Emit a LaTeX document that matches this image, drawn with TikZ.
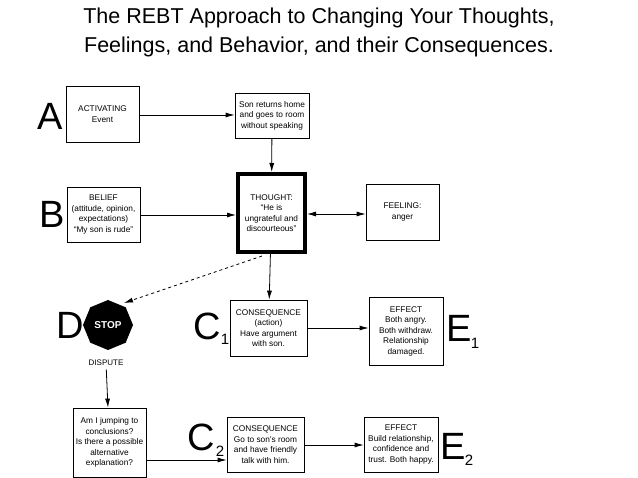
\documentclass[tikz,border=0pt]{standalone}
\usepackage{fontspec}
\setmainfont{Liberation Sans}
\usetikzlibrary{arrows.meta,shapes.geometric}
\begin{document}
\begin{tikzpicture}[x=1pt,y=-1pt,
  box/.style={draw,thick,align=center,font=\fontsize{8.3}{10.5}\selectfont,inner sep=0pt},
  big/.style={font=\fontsize{38}{38}\selectfont,inner sep=0pt},
  sub/.style={font=\fontsize{15}{15}\selectfont,inner sep=0pt},
  arr/.style={thick,-{Latex[length=9pt,width=5pt]}}]
\useasboundingbox (0,0) rectangle (638,478);
\node[font=\fontsize{21.5}{29}\selectfont,align=center] (title) at (319,32) {The REBT Approach to Changing Your Thoughts,\\Feelings, and Behavior, and their Consequences.};
\node[box,minimum width=73pt,minimum height=56pt] (act) at (102.5,114) {ACTIVATING\\Event};
\node[big] (A) at (50,116) {A};
\node[box,minimum width=74pt,minimum height=45pt] (son) at (272,115.5) {Son returns home\\and goes to room\\without speaking};
\node[box,line width=4pt,minimum width=67pt,minimum height=78pt] (th) at (271.5,213) {THOUGHT:\\``He is\\ungrateful and\\discourteous''};
\node[box,minimum width=73pt,minimum height=55pt] (bel) at (103.5,214.5) {BELIEF\\(attitude, opinion,\\expectations)\\``My son is rude''};
\node[big] (B) at (52,214) {B};
\node[box,minimum width=73pt,minimum height=56pt] (feel) at (402.5,212) {FEELING:\\anger};
\node[regular polygon,regular polygon sides=8,shape border rotate=22.5,fill=black,minimum size=50pt,inner sep=0pt,text=white,font=\bfseries\fontsize{10}{10}\selectfont] (stop) at (108,325) {STOP};
\node[big] (D) at (70,325) {D};
\node[font=\fontsize{8}{8}\selectfont] (disp) at (106,363) {DISPUTE};
\node[box,minimum width=77pt,minimum height=56pt] (c1) at (268.5,328) {CONSEQUENCE\\(action)\\Have argument\\with son.};
\node[big] (C1) at (207,326) {C};
\node[sub] (C1s) at (225,339) {1};
\node[box,minimum width=74pt,minimum height=68pt] (e1) at (406,331) {EFFECT\\Both angry.\\Both withdraw.\\Relationship\\damaged.};
\node[big] (E1) at (459,328) {E};
\node[sub] (E1s) at (475,343) {1};
\node[box,minimum width=73pt,minimum height=69pt] (q) at (109.5,442.5) {Am I jumping to\\conclusions?\\Is there a possible\\alternative\\explanation?};
\node[box,minimum width=77pt,minimum height=55pt] (c2) at (265.5,444.5) {CONSEQUENCE\\Go to son's room\\and have friendly\\talk with him.};
\node[big] (C2) at (201,437) {C};
\node[sub] (C2s) at (220,451) {2};
\node[box,minimum width=74pt,minimum height=55pt] (e2) at (401,444.5) {EFFECT\\Build relationship,\\confidence and\\trust. Both happy.};
\node[big] (E2) at (453,446) {E};
\node[sub] (E2s) at (469,460) {2};
\draw[arr] (act.east|-0,115) -- (son.west|-0,115);
\draw[arr] (son) -- (th);
\draw[arr] (bel.east|-0,215) -- (th.west|-0,215);
\draw[thick,{Latex[length=9pt,width=5pt]}-{Latex[length=9pt,width=5pt]}] (th.east|-0,214) -- (feel.west|-0,214);
\draw[arr] (th) -- (c1);
\draw[thick,dashed,-{Latex[length=9pt,width=5pt]}] (262,256) -- (124,303);
\draw[arr] (disp) -- (q);
\draw[arr] (c1.east|-0,328) -- (e1.west|-0,328);
\draw[arr] (q.east|-0,460) -- (c2.west|-0,460);
\draw[arr] (c2.east|-0,445) -- (e2.west|-0,445);
\end{tikzpicture}
\end{document}
